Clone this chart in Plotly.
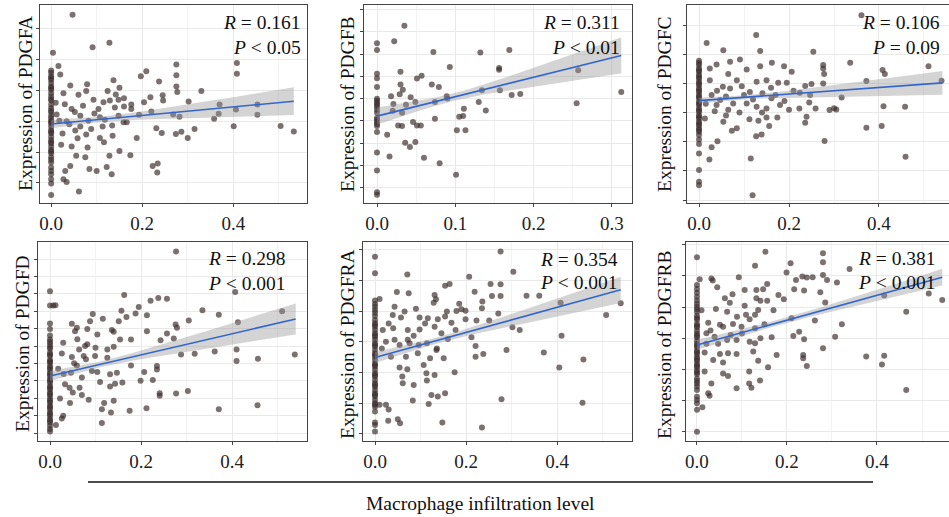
import math
import plotly.graph_objects as go

W, H = 949, 517

# ---------------- data ----------------
genes = ["PDGFA", "PDGFB", "PDGFC", "PDGFD", "PDGFRA", "PDGFRB"]
r_text = ["0.161", "0.311", "0.106", "0.298", "0.354", "0.381"]
p_text = ["&lt; 0.05", "&lt; 0.01", "= 0.09", "&lt; 0.001", "&lt; 0.001", "&lt; 0.001"]

pdgfa_pts = [
    (0.047, 6.45), (0.128, 5.55), (0.091, 5.40), (0.004, 5.22), (0.408, 4.89), (0.408, 4.54),
    (0.275, 4.84), (0.275, 4.49), (0.209, 4.62), (0.197, 4.46), (0.237, 4.29), (0.275, 4.13),
    (0.277, 3.95), (0.330, 3.98), (0.137, 4.33), (0.150, 4.09), (0.124, 3.98), (0.142, 3.87),
    (0.148, 3.70), (0.079, 4.20), (0.077, 3.98), (0.042, 4.16), (0.020, 4.52), (0.016, 4.79),
    (0.027, 3.91), (0.060, 3.86), (0.093, 3.70), (0.104, 3.40), (0.115, 3.62), (0.129, 3.67),
    (0.160, 3.48), (0.176, 3.54), (0.176, 3.40), (0.204, 3.62), (0.218, 3.78), (0.245, 3.84),
    (0.246, 3.67), (0.302, 3.64), (0.370, 3.54), (0.453, 3.54), (0.406, 3.38), (0.453, 3.21),
    (0.368, 3.24), (0.358, 3.08), (0.282, 3.15), (0.268, 3.22), (0.220, 3.32), (0.193, 3.21),
    (0.166, 2.97), (0.159, 2.97), (0.148, 3.18), (0.134, 2.86), (0.113, 2.83), (0.107, 3.13),
    (0.082, 3.02), (0.064, 2.83), (0.053, 2.70), (0.034, 3.00), (0.018, 3.02), (0.012, 3.22),
    (0.045, 3.40), (0.064, 3.18), (0.401, 2.84), (0.504, 2.85), (0.533, 2.67), (0.315, 2.75),
    (0.286, 2.66), (0.274, 2.59), (0.243, 2.62), (0.231, 2.77), (0.300, 2.46), (0.188, 2.46),
    (0.135, 2.53), (0.107, 2.46), (0.077, 2.57), (0.116, 2.32), (0.080, 2.15), (0.045, 2.18),
    (0.022, 2.24), (0.150, 2.04), (0.128, 1.88), (0.174, 1.90), (0.075, 1.83), (0.055, 1.88),
    (0.042, 1.55), (0.031, 1.39), (0.084, 1.45), (0.100, 1.39), (0.122, 1.52), (0.133, 1.28),
    (0.223, 1.55), (0.234, 1.63), (0.233, 1.34), (0.027, 1.12), (0.034, 1.03), (0.061, 0.72),
    (0.030, 3.55), (0.052, 3.30), (0.070, 3.50), (0.095, 3.25), (0.140, 3.45), (0.160, 3.75),
    (0.010, 3.60), (0.025, 2.60), (0.040, 2.90), (0.058, 2.45), (0.088, 2.75), (0.118, 3.05),
]
pdgfa_zero = [4.65, 4.57, 4.46, 4.35, 4.24, 4.13, 4.02, 3.91, 3.80, 3.67, 3.54, 3.43, 3.29,
              3.18, 3.11, 3.02, 2.93, 2.83, 2.72, 2.61, 2.50, 2.39, 2.28, 2.17, 2.07, 1.96,
              1.83, 1.66, 1.50, 1.39, 1.28, 1.12, 0.98, 0.61, 4.40, 4.08, 3.72, 3.35, 2.98,
              2.66, 2.33, 2.02, 1.75]

pdgfb_pts = [
    (0.035, 8.28), (0.022, 7.58), (0.000, 7.49), (0.000, 7.19), (0.072, 7.09), (0.132, 7.07),
    (0.169, 7.19), (0.093, 6.42), (0.156, 6.37), (0.156, 6.30), (0.257, 6.27), (0.030, 6.21),
    (0.000, 6.12), (0.000, 5.91), (0.057, 6.03), (0.051, 5.90), (0.030, 5.63), (0.070, 5.63),
    (0.079, 5.52), (0.000, 5.52), (0.033, 5.40), (0.134, 5.37), (0.157, 5.37), (0.029, 5.19),
    (0.018, 5.10), (0.043, 5.06), (0.089, 5.10), (0.172, 5.16), (0.183, 5.21), (0.312, 5.30),
    (0.000, 4.99), (0.000, 4.81), (0.021, 4.76), (0.049, 4.84), (0.037, 4.72), (0.074, 4.84),
    (0.130, 4.85), (0.255, 4.79), (0.000, 4.63), (0.032, 4.36), (0.111, 4.54), (0.139, 4.46),
    (0.000, 4.36), (0.105, 4.18), (0.110, 4.21), (0.074, 4.09), (0.000, 4.13), (0.000, 3.94),
    (0.046, 3.94), (0.051, 3.79), (0.056, 3.79), (0.027, 3.79), (0.032, 3.76), (0.000, 3.76),
    (0.000, 3.49), (0.013, 3.37), (0.102, 3.57), (0.113, 3.57), (0.036, 3.01), (0.049, 3.04),
    (0.042, 2.82), (0.000, 2.57), (0.016, 2.39), (0.060, 2.34), (0.080, 2.09), (0.101, 1.57),
    (0.000, 1.76), (0.000, 0.78), (0.000, 0.67), (0.000, 4.90), (0.000, 4.50), (0.000, 4.05),
    (0.000, 3.85), (0.000, 4.72), (0.090, 5.00), (0.020, 4.45),
]
pdgfb_zero = []

pdgfc_pts = [
    (0.361, 6.34), (0.127, 5.66), (0.017, 5.39), (0.054, 5.14), (0.136, 5.11), (0.254, 5.09),
    (0.336, 4.71), (0.510, 4.59), (0.069, 4.74), (0.091, 4.82), (0.039, 4.65), (0.024, 4.51),
    (0.106, 4.48), (0.136, 4.59), (0.162, 4.71), (0.189, 4.59), (0.206, 4.40), (0.276, 4.63),
    (0.276, 4.51), (0.278, 4.32), (0.408, 4.46), (0.413, 4.32), (0.372, 4.08), (0.539, 4.09),
    (0.024, 4.11), (0.065, 4.32), (0.084, 4.11), (0.053, 3.89), (0.069, 3.83), (0.128, 4.06),
    (0.150, 4.11), (0.176, 4.02), (0.195, 4.02), (0.236, 3.91), (0.250, 3.98), (0.276, 4.00),
    (0.224, 3.68), (0.247, 3.60), (0.317, 3.52), (0.113, 3.71), (0.141, 3.66), (0.161, 3.49),
    (0.028, 3.60), (0.047, 3.43), (0.039, 3.26), (0.076, 3.31), (0.106, 3.31), (0.128, 3.20),
    (0.150, 3.14), (0.180, 3.26), (0.223, 3.14), (0.259, 3.14), (0.290, 3.09), (0.305, 3.11),
    (0.410, 3.22), (0.458, 3.20), (0.013, 2.80), (0.054, 2.69), (0.084, 2.46), (0.073, 2.38),
    (0.112, 2.77), (0.132, 2.72), (0.150, 2.83), (0.174, 2.83), (0.156, 2.54), (0.236, 2.65),
    (0.239, 2.86), (0.372, 2.48), (0.406, 2.54), (0.127, 2.19), (0.139, 2.25), (0.041, 2.02),
    (0.279, 2.03), (0.028, 1.81), (0.023, 1.39), (0.115, 1.43), (0.459, 1.49), (0.119, 0.17),
    (0.040, 3.75), (0.060, 3.55), (0.095, 3.90), (0.100, 3.60), (0.120, 3.45), (0.160, 3.85),
    (0.190, 3.40), (0.210, 3.75), (0.015, 3.30), (0.035, 3.05), (0.065, 3.10), (0.090, 3.00),
    (0.140, 3.00), (0.170, 3.60), (0.200, 3.10), (0.245, 3.35), (0.300, 3.15), (0.060, 2.90),
]
pdgfc_zero = [4.78, 4.63, 4.51, 4.40, 4.29, 4.17, 4.06, 3.94, 3.83, 3.71, 3.60, 3.49, 3.37,
              3.26, 3.14, 3.03, 2.91, 2.80, 2.69, 2.57, 2.46, 2.34, 2.23, 2.08, 1.92, 1.60,
              1.03, 0.63, 0.51, 4.70, 4.45, 4.23, 4.00, 3.77, 3.54, 3.31, 3.08, 2.86, 2.63,
              2.40]

pdgfd_pts = [
    (0.277, 10.44), (0.407, 8.11), (0.163, 7.94), (0.221, 7.61), (0.238, 7.77), (0.257, 7.73),
    (0.195, 7.25), (0.157, 7.04), (0.335, 7.06), (0.371, 6.81), (0.510, 7.00), (0.094, 6.85),
    (0.116, 6.58), (0.088, 6.43), (0.151, 6.43), (0.168, 6.68), (0.188, 6.87), (0.213, 6.77),
    (0.305, 6.47), (0.276, 6.24), (0.279, 6.05), (0.413, 6.37), (0.048, 6.28), (0.059, 6.05),
    (0.082, 5.99), (0.055, 5.86), (0.104, 5.67), (0.136, 5.92), (0.140, 5.82), (0.213, 5.86),
    (0.257, 5.73), (0.154, 5.38), (0.178, 5.38), (0.243, 5.34), (0.272, 5.44), (0.029, 5.19),
    (0.082, 5.10), (0.077, 5.00), (0.140, 4.96), (0.126, 4.81), (0.064, 4.81), (0.026, 4.58),
    (0.048, 4.37), (0.074, 4.43), (0.079, 4.24), (0.099, 4.43), (0.126, 4.33), (0.178, 3.89),
    (0.235, 3.85), (0.235, 3.66), (0.288, 4.52), (0.318, 4.56), (0.362, 4.69), (0.410, 4.81),
    (0.410, 4.14), (0.457, 4.27), (0.538, 4.52), (0.053, 4.01), (0.059, 3.89), (0.018, 3.70),
    (0.046, 3.47), (0.092, 3.57), (0.104, 3.51), (0.132, 3.38), (0.147, 3.47), (0.207, 3.51),
    (0.226, 3.05), (0.199, 3.00), (0.033, 2.81), (0.043, 2.61), (0.065, 2.61), (0.110, 2.94),
    (0.132, 2.67), (0.143, 2.84), (0.159, 2.90), (0.050, 2.33), (0.070, 2.19), (0.085, 1.91),
    (0.022, 1.98), (0.044, 1.72), (0.119, 1.72), (0.140, 1.85), (0.241, 2.29), (0.241, 2.14),
    (0.277, 2.27), (0.303, 2.42), (0.114, 1.37), (0.134, 1.18), (0.175, 1.28), (0.212, 1.43),
    (0.371, 1.37), (0.456, 1.60), (0.029, 0.99), (0.026, 0.84), (0.013, 0.46), (0.114, 0.57),
    (0.007, 7.33), (0.012, 7.35), (0.060, 5.40), (0.100, 4.90), (0.030, 3.40), (0.070, 3.20),
]
pdgfd_zero = [8.15, 7.33, 6.30, 5.99, 5.61, 5.38, 5.10, 4.85, 4.62, 4.43, 4.20, 4.05, 3.85,
              3.66, 3.47, 3.28, 3.09, 2.90, 2.71, 2.52, 2.33, 2.14, 1.95, 1.76, 1.57, 1.37,
              1.18, 0.99, 0.80, 0.61, 0.42, 0.23, 0.08, 5.25, 4.95, 4.52, 4.12, 3.75, 3.38,
              3.00, 2.62, 2.24, 1.86, 1.48, 1.10, 0.70]

pdgfra_pts = [
    (0.276, 5.95), (0.000, 5.78), (0.000, 5.24), (0.071, 5.20), (0.304, 5.29), (0.207, 5.13),
    (0.154, 4.83), (0.164, 4.89), (0.254, 4.89), (0.276, 4.88), (0.048, 4.63), (0.074, 4.59),
    (0.219, 4.64), (0.131, 4.53), (0.134, 4.39), (0.129, 4.28), (0.257, 4.50), (0.276, 4.50),
    (0.333, 4.51), (0.361, 4.51), (0.408, 4.28), (0.540, 4.26), (0.236, 4.32), (0.235, 4.10),
    (0.043, 4.15), (0.065, 3.99), (0.090, 4.08), (0.158, 3.99), (0.179, 4.01), (0.190, 4.07),
    (0.199, 4.02), (0.271, 3.93), (0.508, 3.88), (0.039, 3.88), (0.057, 3.80), (0.098, 3.80),
    (0.116, 3.77), (0.138, 3.74), (0.154, 3.83), (0.168, 3.63), (0.199, 3.74), (0.223, 3.70),
    (0.251, 3.70), (0.302, 3.48), (0.318, 3.39), (0.017, 3.39), (0.040, 3.45), (0.072, 3.39),
    (0.098, 3.41), (0.131, 3.50), (0.146, 3.28), (0.177, 3.39), (0.212, 3.15), (0.410, 3.20),
    (0.024, 3.01), (0.043, 3.07), (0.072, 3.07), (0.076, 2.96), (0.054, 2.90), (0.096, 2.90),
    (0.114, 2.96), (0.135, 2.74), (0.136, 2.79), (0.221, 2.87), (0.289, 2.74), (0.015, 2.79),
    (0.035, 2.52), (0.068, 2.52), (0.094, 2.63), (0.121, 2.47), (0.151, 2.47), (0.221, 2.52),
    (0.238, 2.61), (0.371, 2.66), (0.458, 2.43), (0.405, 2.17), (0.054, 2.17), (0.071, 2.11),
    (0.107, 2.25), (0.113, 1.98), (0.131, 1.92), (0.175, 2.01), (0.060, 1.87), (0.061, 1.65),
    (0.085, 1.60), (0.114, 1.74), (0.124, 1.27), (0.138, 1.22), (0.154, 1.33), (0.083, 1.09),
    (0.118, 0.98), (0.278, 1.13), (0.456, 1.02), (0.010, 0.95), (0.024, 0.95), (0.030, 0.80),
    (0.029, 0.43), (0.050, 0.48), (0.055, 0.35), (0.148, 0.37), (0.235, 0.21),
    (0.010, 4.40), (0.030, 3.60), (0.085, 3.20), (0.110, 3.60), (0.160, 3.10), (0.185, 4.25),
]
pdgfra_zero = [4.35, 4.24, 4.04, 3.85, 3.72, 3.61, 3.50, 3.39, 3.28, 3.17, 3.07, 2.96, 2.85,
               2.74, 2.63, 2.52, 2.41, 2.30, 2.20, 2.09, 1.98, 1.87, 1.76, 1.65, 1.54, 1.43,
               1.33, 1.22, 1.11, 1.00, 0.89, 0.73, 0.37, 0.29, 0.08, 4.15, 3.95, 3.55, 3.22,
               2.90, 2.58, 2.25, 1.92, 1.60, 1.28, 0.95]

pdgfrb_pts = [
    (0.152, 5.78), (0.280, 5.73), (0.000, 5.60), (0.280, 5.44), (0.129, 5.33), (0.208, 5.41),
    (0.339, 5.22), (0.199, 5.11), (0.093, 4.96), (0.032, 4.92), (0.006, 4.89), (0.035, 4.85),
    (0.156, 4.74), (0.147, 4.57), (0.220, 4.87), (0.234, 4.98), (0.244, 4.95), (0.257, 4.96),
    (0.280, 5.03), (0.289, 4.87), (0.311, 4.79), (0.045, 4.64), (0.106, 4.55), (0.132, 4.55),
    (0.216, 4.57), (0.238, 4.53), (0.274, 4.48), (0.181, 4.39), (0.193, 4.25), (0.079, 4.41),
    (0.062, 4.28), (0.073, 4.14), (0.132, 4.28), (0.141, 4.20), (0.156, 4.20), (0.285, 4.15),
    (0.042, 3.94), (0.067, 3.85), (0.106, 4.04), (0.136, 3.91), (0.089, 3.69), (0.109, 3.75),
    (0.129, 3.75), (0.210, 3.64), (0.262, 3.57), (0.322, 3.45), (0.025, 3.50), (0.051, 3.43),
    (0.058, 3.37), (0.080, 3.46), (0.099, 3.37), (0.129, 3.32), (0.117, 3.61), (0.214, 3.07),
    (0.227, 3.21), (0.238, 2.97), (0.307, 3.05), (0.166, 3.03), (0.141, 3.00), (0.021, 3.16),
    (0.039, 3.05), (0.067, 2.94), (0.088, 2.94), (0.117, 2.89), (0.129, 2.84), (0.021, 2.82),
    (0.047, 2.82), (0.017, 2.54), (0.051, 2.49), (0.069, 2.52), (0.088, 2.49), (0.177, 2.46),
    (0.125, 2.57), (0.280, 2.68), (0.376, 2.41), (0.416, 2.44), (0.236, 2.46), (0.236, 2.36),
    (0.036, 2.30), (0.058, 2.22), (0.136, 2.28), (0.158, 2.07), (0.244, 2.11), (0.411, 2.16),
    (0.017, 1.93), (0.058, 1.87), (0.069, 1.79), (0.116, 1.93), (0.140, 1.64), (0.032, 1.55),
    (0.116, 1.55), (0.121, 1.41), (0.088, 1.39), (0.025, 1.23), (0.028, 1.15), (0.012, 0.78),
    (0.465, 1.34), (0.465, 3.85), (0.515, 4.44), (0.545, 4.23), (0.416, 4.37),
    (0.010, 3.90), (0.030, 3.25), (0.075, 3.10), (0.100, 3.15), (0.150, 3.45), (0.170, 3.90),
]
pdgfrb_zero = [4.71, 4.46, 4.21, 4.01, 3.85, 3.72, 3.59, 3.46, 3.35, 3.24, 3.14, 3.03, 2.92,
               2.82, 2.71, 2.60, 2.49, 2.39, 2.28, 2.17, 2.07, 1.96, 1.85, 1.71, 1.55, 1.34,
               1.12, 0.91, 0.70, 0.00, 4.58, 4.33, 4.11, 3.93, 3.65, 3.40, 3.09, 2.77, 2.55,
               2.33, 2.12, 1.90, 1.63, 1.45, 1.02]

points = [pdgfa_pts, pdgfb_pts, pdgfc_pts, pdgfd_pts, pdgfra_pts, pdgfrb_pts]
zeros = [pdgfa_zero, pdgfb_zero, pdgfc_zero, pdgfd_zero, pdgfra_zero, pdgfrb_zero]

# fitted line (x at start/end, y at start/end)
fit_x_end = [0.533, 0.312, 0.541, 0.540, 0.540, 0.545]
fit_y_start = [2.91, 4.21, 3.41, 3.28, 2.49, 2.78]
fit_y_end = [3.65, 6.94, 4.02, 6.56, 4.70, 4.96]
# confidence band half-width: at left end, narrowest, at right end
band_left = [0.14, 0.39, 0.11, 0.29, 0.18, 0.16]
band_min = [0.09, 0.17, 0.07, 0.17, 0.10, 0.09]
band_right = [0.45, 0.81, 0.41, 0.89, 0.43, 0.27]

# ---------------- layout geometry (pixels) ----------------
px_x = [(40, 307), (364, 632), (687, 949), (38, 307), (363, 632), (686, 949)]
px_y = [(5, 203), (5, 203), (5, 203), (242, 441), (242, 441), (242, 441)]
x_ranges = [(-0.0245, 0.562), (-0.0166, 0.3257), (-0.0267, 0.5556),
            (-0.0264, 0.5648), (-0.0264, 0.5648), (-0.0244, 0.56)]
y_ranges = [(0.35, 6.77), (0.30, 9.21), (-0.10, 6.69), (-0.46, 10.99), (-0.23, 6.26), (-0.30, 6.09)]
x_dtick = [0.2, 0.1, 0.2, 0.2, 0.2, 0.2]
ytitle_x = [25, 347, 664, 22, 347, 664]
ytitle_y = [104, 104, 104, 344, 344, 345]
r_right = [303, 622, 942, 288, 620, 938]
r_y = [23, 23, 23, 258, 259, 258]
p_y = [48, 48, 48, 283, 282, 282]

FONT = "Liberation Serif"
PT_COLOR = "rgba(60,45,45,0.68)"

fig = go.Figure()
annotations = []
for i in range(6):
    ax = "" if i == 0 else str(i + 1)
    xs = [p[0] for p in points[i]] + [0.0] * len(zeros[i])
    ys = [p[1] for p in points[i]] + list(zeros[i])
    fig.add_trace(go.Scatter(x=xs, y=ys, mode="markers",
                             marker=dict(size=6, color=PT_COLOR, line=dict(width=0)),
                             xaxis="x" + ax, yaxis="y" + ax, showlegend=False, hoverinfo="skip"))
    # smooth (hyperbolic) confidence band through the read half-widths
    x1 = fit_x_end[i]
    h0, hm, h1 = band_left[i], band_min[i], band_right[i]
    k = math.sqrt((h1 ** 2 - hm ** 2) / (h0 ** 2 - hm ** 2))
    m = x1 / (1 + k)
    b = (h0 ** 2 - hm ** 2) / m ** 2
    n = 40
    bx = [x1 * j / n for j in range(n + 1)]
    slope = (fit_y_end[i] - fit_y_start[i]) / x1
    by = [fit_y_start[i] + slope * x for x in bx]
    hw = [math.sqrt(hm ** 2 + b * (x - m) ** 2) for x in bx]
    up = [c + h for c, h in zip(by, hw)]
    lo = [c - h for c, h in zip(by, hw)]
    fig.add_trace(go.Scatter(x=bx + bx[::-1], y=up + lo[::-1], mode="lines", fill="toself",
                             fillcolor="rgba(153,153,153,0.42)", line=dict(width=0),
                             xaxis="x" + ax, yaxis="y" + ax, showlegend=False, hoverinfo="skip"))
    fig.add_trace(go.Scatter(x=[0, x1], y=[fit_y_start[i], fit_y_end[i]], mode="lines",
                             line=dict(color="#3366CC", width=1.6),
                             xaxis="x" + ax, yaxis="y" + ax, showlegend=False, hoverinfo="skip"))

    dom_x = [px_x[i][0] / W, px_x[i][1] / W]
    dom_y = [1 - px_y[i][1] / H, 1 - px_y[i][0] / H]
    fig.update_layout(**{
        "xaxis" + ax: dict(domain=dom_x, range=list(x_ranges[i]), anchor="y" + ax,
                           dtick=x_dtick[i], tick0=0, tickformat=".1f",
                           showgrid=True, gridcolor="#e9e9e9", gridwidth=1,
                           minor=dict(dtick=x_dtick[i] / 2, showgrid=True, gridcolor="#f2f2f2", gridwidth=0.8),
                           zeroline=False, showline=True, mirror=True, linecolor="#444", linewidth=1.2,
                           ticks="outside", ticklen=3, tickcolor="#444",
                           tickfont=dict(family=FONT, size=19, color="#222")),
        "yaxis" + ax: dict(domain=dom_y, range=list(y_ranges[i]), anchor="x" + ax,
                           dtick=1, tick0=0, showticklabels=False,
                           showgrid=True, gridcolor="#e9e9e9", gridwidth=1,
                           zeroline=False, showline=True, mirror=(i not in (2, 5)),
                           linecolor="#444", linewidth=1.2,
                           ticks="outside", ticklen=3, tickcolor="#444"),
    })
    annotations.append(dict(text="Expression of " + genes[i], x=ytitle_x[i] / W, y=1 - ytitle_y[i] / H,
                            xref="paper", yref="paper", showarrow=False, textangle=-90,
                            xanchor="center", yanchor="middle",
                            font=dict(family=FONT, size=19.5, color="#111")))
    annotations.append(dict(text="<i>R</i> = " + r_text[i], x=r_right[i] / W, y=1 - r_y[i] / H,
                            xref="paper", yref="paper", showarrow=False, xanchor="right", yanchor="middle",
                            font=dict(family=FONT, size=19.5, color="#111")))
    annotations.append(dict(text="<i>P</i> " + p_text[i], x=r_right[i] / W, y=1 - p_y[i] / H,
                            xref="paper", yref="paper", showarrow=False, xanchor="right", yanchor="middle",
                            font=dict(family=FONT, size=19.5, color="#111")))

annotations.append(dict(text="Macrophage infiltration level", x=480 / W, y=1 - 503 / H,
                        xref="paper", yref="paper", showarrow=False, xanchor="center", yanchor="middle",
                        font=dict(family=FONT, size=19.5, color="#111")))

fig.update_layout(
    width=W, height=H, margin=dict(l=0, r=0, t=0, b=0),
    paper_bgcolor="white", plot_bgcolor="white",
    annotations=annotations,
    shapes=[dict(type="line", xref="paper", yref="paper", x0=88 / W, x1=873 / W,
                 y0=1 - 482 / H, y1=1 - 482 / H, line=dict(color="#111", width=1.4))],
)

fig.write_html("out.html", config={"displayModeBar": False},
               post_script="document.body.style.margin='0';document.body.style.overflow='hidden';")
